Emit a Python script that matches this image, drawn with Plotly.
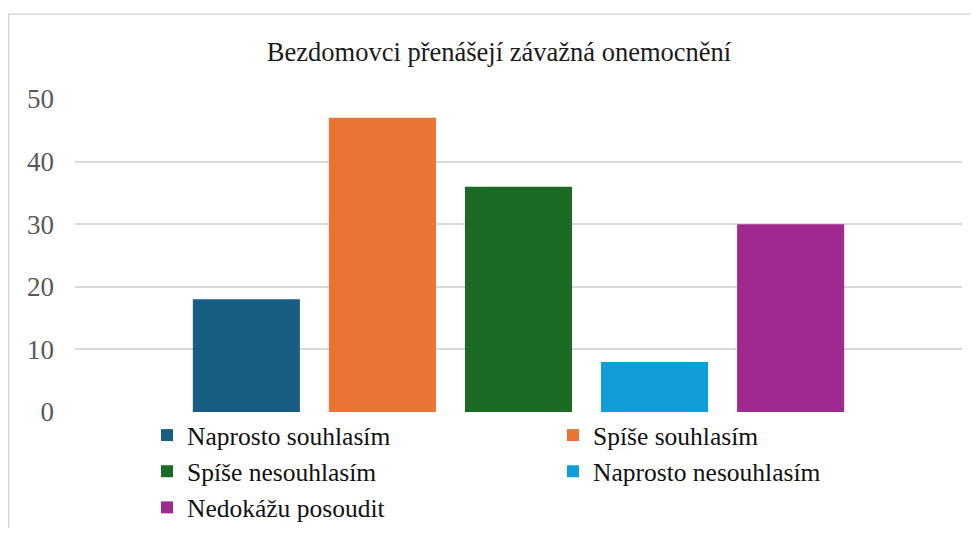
import plotly.graph_objs as go

# Survey answers for one statement
title_text = "Bezdomovci přenášejí závažná onemocnění"
answers = ["Naprosto souhlasím", "Spíše souhlasím", "Spíše nesouhlasím",
           "Naprosto nesouhlasím", "Nedokážu posoudit"]
counts = [18, 47, 36, 8, 30]
colors = ["#175E82", "#EA7434", "#1B6B26", "#119ED8", "#A0298F"]
y_ticks = [0, 10, 20, 30, 40, 50]

font_name = "Liberation Serif"

# the page body adds an 8px margin, so the figure is drawn 16px smaller
W, H = 962, 520
plot_l, plot_r, plot_t, plot_b = 67, 954, 90.7, 403.7
plot_w, plot_h = plot_r - plot_l, plot_b - plot_t

fig = go.Figure()
for answer, count, color in zip(answers, counts, colors):
    fig.add_trace(
        go.Bar(
            x=["Bezdomovci"],
            y=[count],
            name=answer,
            marker={'color': color, 'line': {'width': 0}}
        )
    )

fig.update_layout(
    width=W,
    height=H,
    template='none',
    paper_bgcolor='white',
    plot_bgcolor='white',
    margin={'l': plot_l, 'r': W - plot_r, 't': plot_t, 'b': H - plot_b,
            'autoexpand': False},
    barmode='group',
    bargap=0.233,
    bargroupgap=0.213,
    title={
        'text': title_text,
        'x': 491 / W,
        'xanchor': 'center',
        'y': 1 - 44 / H,
        'yanchor': 'middle',
        'font': {'family': font_name, 'size': 26.5, 'color': '#1a1a1a'}
    },
    xaxis={
        'showticklabels': False,
        'showgrid': False,
        'zeroline': False,
        'showline': False,
        'ticks': ''
    },
    yaxis={
        'range': [0, 50],
        'tickvals': y_ticks,
        'showgrid': True,
        'gridcolor': '#d9d9d9',
        'gridwidth': 1.5,
        'zeroline': False,
        'showline': False,
        'ticks': '',
        'automargin': False,
        'ticklabelstandoff': 20,
        'tickfont': {'family': font_name, 'size': 27, 'color': '#595959'}
    },
    legend={
        'orientation': 'h',
        'x': 72 / plot_w,
        'xanchor': 'left',
        'y': 0.0,
        'yanchor': 'top',
        'entrywidth': 361,
        'entrywidthmode': 'pixels',
        'tracegroupgap': 0,
        'font': {'family': font_name, 'size': 25.5, 'color': '#111111'},
        'bgcolor': 'rgba(0,0,0,0)'
    },
    shapes=[{
        'type': 'rect',
        'xref': 'paper', 'yref': 'paper',
        'x0': (0.75 - plot_l) / plot_w, 'x1': (980 - plot_l) / plot_w,
        'y0': (plot_b - 545) / plot_h, 'y1': (plot_b - 6) / plot_h,
        'line': {'color': '#d9d9d9', 'width': 1.5},
        'layer': 'below'
    }]
)

fig.write_html("out.html")
